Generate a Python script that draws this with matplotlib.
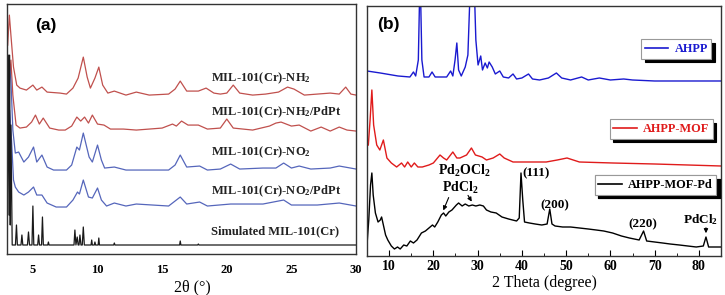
import numpy as np
import matplotlib.pyplot as plt
from matplotlib.lines import Line2D
from matplotlib.ticker import MultipleLocator

plt.rcParams['font.family'] = ['Liberation Serif', 'DejaVu Serif']
plt.rcParams['font.weight'] = 'bold'
plt.rcParams['mathtext.fontset'] = 'custom'
plt.rcParams['mathtext.rm'] = 'Liberation Serif:bold'
plt.rcParams['mathtext.it'] = 'Liberation Serif:bold'
plt.rcParams['mathtext.bf'] = 'Liberation Serif:bold'
plt.rcParams['mathtext.default'] = 'rm'

# ---------------- panel (a): MIL-101(Cr) patterns (intensity above own baseline, a.u.)
nh2_tt = [3.05, 3.18, 3.3, 3.5, 3.75, 4.0, 4.5, 5.0, 5.3, 5.7, 6.1, 7.1, 7.6, 8.1, 8.5, 8.9, 9.2,
          9.45, 9.8, 10.1, 10.4, 10.8, 11.3, 12.2, 13, 14, 15.5, 16.0, 16.4, 16.9, 17.8, 18.4,
          19.0, 19.5, 20.0, 20.5, 21.0, 22, 23, 24.0, 24.7, 25.2, 26, 27, 28, 28.7, 29.2, 29.6, 30]
nh2_i = [50, 80, 60, 28, 10, 7, 5, 10, 5, 8, 3, 2, 1, 7, 17, 38, 18,
         7, 17, 28, 10, 2, 4, 0, 3, 0, 1, 6, 14, 4, 4, 7,
         2, 1, 2, 10, 2, 0, 1, 3, 8, 6, 0, 1, 2, 1, 8, 1, 0]

nh2pd_tt = [3.1, 3.3, 3.45, 3.7, 4.0, 4.5, 4.9, 5.2, 5.5, 5.8, 6.3, 7.0, 7.5, 8.0, 8.4, 8.7, 9.0,
            9.3, 9.6, 10.0, 10.5, 11.0, 12, 13, 14, 15.0, 15.8, 16.1, 16.5, 17.0, 17.8, 18.5,
            19.5, 20.0, 20.5, 22, 23.3, 23.8, 24.2, 24.6, 25.0, 25.6, 26.5, 27.3, 28.0, 28.7,
            29.3, 30]
nh2pd_i = [31, 71, 36, 6, 3, 4, 9, 16, 7, 13, 3, 1, 1, 5, 14, 10, 14,
           8, 16, 7, 6, 2, 2, 1, 2, 3, 7, 5, 10, 6, 6, 2,
           3, 12, 3, 1, 5, 8, 9, 7, 5, 6, 0, 4, 0, 4,
           1, 0]

no2_tt = [3.0, 3.15, 3.3, 3.45, 3.64, 3.9, 4.3, 4.66, 5.05, 5.3, 5.7, 6.1, 6.6, 7.6, 8.0, 8.4,
          8.6, 8.9, 9.35, 9.6, 10.0, 10.3, 10.55, 11.3, 12.2, 13, 15.5, 16.0, 16.4, 16.9, 17.9,
          18.5, 19.5, 20.3, 21.0, 22.8, 23.8, 24.4, 25.0, 25.6, 26.5, 28.0, 28.7, 30]
no2_i = [49, 109, 89, 39, 16, 17, 7, 12, 22, 7, 14, 2, -1, -1, 4, 22,
         19, 36, 12, 7, 24, 9, 1, 2, -1, -1, -1, 4, 14, 2, 3,
         -1, 0, 5, 0, 1, 1, 6, 1, 3, 0, 1, 3, 0]

no2pd_tt = [3.0, 3.2, 3.35, 3.5, 3.64, 3.9, 4.3, 4.66, 5.05, 5.3, 5.7, 6.1, 6.8, 7.6, 8.1, 8.45,
            8.6, 8.9, 9.3, 9.6, 10.0, 10.3, 10.7, 11.3, 12.2, 13, 15.5, 16.4, 16.9, 17.9, 18.5,
            20.3, 22.8, 24.4, 25.0, 27.0, 28.7, 30]
no2pd_i = [56, 96, 66, 26, 19, 14, 11, 14, 19, 11, 11, 3, -1, -1, 6, 14,
           12, 26, 9, 8, 18, 6, 0, 3, 0, 2, 0, 9, 2, 4, 0,
           2, 2, 6, 1, 1, 3, 0]

sim_tt = [3.0, 3.1, 3.15, 3.2, 3.25, 3.3, 3.4, 3.65, 3.73, 3.8, 4.08, 4.15, 4.22, 4.58, 4.66,
          4.74, 4.93, 5.0, 5.07, 5.37, 5.44, 5.51, 5.67, 5.74, 5.81, 6.15, 6.2, 6.25, 8.18, 8.25,
          8.33, 8.43, 8.5, 8.57, 8.64, 8.72, 8.82, 8.9, 8.98, 9.5, 9.55, 9.6, 9.75, 9.8, 9.85,
          10.05, 10.1, 10.15, 11.25, 11.3, 11.35, 16.35, 16.4, 16.45, 17.75, 17.8, 17.85, 30]
sim_i = [0, 190, 30, 190, 20, 120, 0, 0, 20, 0, 0, 10, 0, 0, 13,
         0, 0, 39, 0, 0, 10, 0, 0, 28, 0, 0, 3, 0, 0, 15,
         0, 8, 0, 0, 10, 0, 0, 18, 0, 0, 5, 0, 0, 3, 0,
         0, 7, 0, 0, 2, 0, 0, 4, 0, 0, 1, 0, 0]

a_labels = [r'MIL-101(Cr)-NH$_2$', r'MIL-101(Cr)-NH$_2$/PdPt', r'MIL-101(Cr)-NO$_2$',
            r'MIL-101(Cr)-NO$_2$/PdPt', 'Simulated MIL-101(Cr)']

# ---------------- panel (b): AHPP series
ahpp_tt = [5.0, 8, 12, 14.7, 15.5, 16.0, 16.6, 17.0, 17.4, 17.9, 19, 19.7, 20.4, 23, 23.9, 24.4,
           24.9, 25.3, 25.7, 26.3, 27.2, 27.8, 28.3, 28.7, 29.1, 29.6, 30.1, 30.7, 31.1, 31.7,
           32.2, 32.6, 33.3, 34.0, 35.0, 35.8, 37, 38, 38.8, 40, 41.5, 42.4, 44, 46, 47.8, 49,
           51, 53.5, 55, 57.5, 60, 63, 65, 70, 75, 85]
ahpp_i = [10, 8, 5, 4, 9, 5, 21, 110, 21, 4, 4, 9, 4, 4, 10, 5,
          21, 38, 11, 5, 14, 26, 90, 120, 115, 41, 16, 25, 11, 18,
          13, 19, 14, 7, 10, 4, 3, 7, 2, 3, 7, 2, 1, 3, 8, 3,
          1, 4, 1, 3, 1, 2, 1, 0, 0, 0]

mof_tt = [5.3, 5.7, 6.1, 6.5, 7.2, 7.9, 8.7, 9.5, 10.5, 11.7, 12.8, 13.5, 14.2, 15.0, 15.7, 16.5,
          17.5, 19, 20, 21.5, 22.3, 23, 24.4, 25.3, 26, 27.5, 28.6, 29.5, 31, 32, 33.5, 35, 36,
          38, 40, 45.5, 48, 50.2, 53, 60.5, 70, 85]
mof_i = [21, 46, 76, 41, 21, 16, 26, 8, 3, -1, 3, -1, 4, -1, 3, -1,
         -1, 1, 3, 11, 8, 6, 14, 8, 8, 11, 18, 11, 9, 6, 8, 12, 8,
         4, 4, 4, 6, 8, 4, 3, 2, 0]

mofpd_tt = [5.0, 5.4, 5.8, 6.1, 6.4, 6.9, 7.5, 8.0, 8.3, 8.7, 9.2, 9.7, 10.5, 11.2, 11.9, 12.5,
            13.3, 14.0, 14.8, 15.5, 16.3, 17.3, 18.2, 19.0, 19.8, 20.3, 21.0, 21.8, 22.3, 22.8,
            23.5, 24.2, 25.2, 25.7, 26.5, 27.2, 28.0, 28.8, 29.6, 30.5, 31.3, 32.0, 33.0, 34.2,
            35.5, 37.0, 37.9, 38.8, 39.4, 39.8, 40.2, 40.6, 41.7, 43.0, 44.5, 45.7, 46.3, 46.8,
            47.5, 49.2, 51, 53, 55, 56.8, 58.5, 60.5, 62.5, 64.3, 66.5, 67.5, 68.2, 70, 71.8,
            73.5, 75.6, 77.5, 79.4, 81.0, 81.6, 82.2, 83.5, 85]
mofpd_i = [2, 27, 62, 74, 52, 34, 25, 27, 30, 22, 12, 7, 1, -2, 0, -2,
           2, 1, 6, 4, 7, 14, 16, 19, 22, 20, 25, 32, 34, 31,
           35, 37, 42, 44, 41, 43, 41, 42, 41, 42, 41, 37, 35, 34,
           30, 28, 27, 26, 29, 74, 47, 25, 24, 23, 22, 23, 38, 23,
           21, 20, 20, 19, 18, 17, 16, 14, 11, 9, 7, 16, 6, 5, 4,
           3, 2, 1, 0, 1, 10, 0, 0, 0]

fig = plt.figure(figsize=(7.25, 2.95), dpi=100)

# ---------- (a)
ax1 = fig.add_axes([0.0097, 0.139, 0.4814, 0.847])
red_a, blue_a, blk_a = '#c0504d', '#5566bb', '#1a1a1a'
a_series = [(nh2_tt, nh2_i, 159, red_a), (nh2pd_tt, nh2pd_i, 123, red_a),
            (no2_tt, no2_i, 85, blue_a), (no2pd_tt, no2pd_i, 48, blue_a),
            (sim_tt, sim_i, 9, blk_a)]
for tt, inten, off, col in a_series:
    ax1.plot(tt, np.array(inten) + off, color=col, lw=0.9)
lab_y = [176, 141.5, 102, 63, 23]
for lab, y in zip(a_labels, lab_y):
    ax1.text(18.8, y, lab, ha='left', va='center', fontsize=9, color='#222222')
ax1.text(0.112, 0.914, '(a)', transform=ax1.transAxes, ha='center', va='center',
         fontsize=12.5, fontweight='bold', family=['Liberation Sans', 'DejaVu Sans'])
ax1.set_xlim(3, 30)
ax1.set_ylim(0, 250)
ax1.set_yticks([])
ax1.set_xticks([5, 10, 15, 20, 25, 30])
ax1.tick_params(axis='x', length=0, pad=7, labelsize=9)
ax1.set_xlabel('2θ (°)', fontsize=11.5, labelpad=1)
ax1.xaxis.set_label_coords(0.53, -0.1)
for s in ax1.spines.values():
    s.set_linewidth(1.0)
    s.set_color('#333333')

# ---------- (b)
ax2 = fig.add_axes([0.5062, 0.1322, 0.4883, 0.8475])
blue_b, red_b, blk_b = '#1a1ad0', '#e01b1b', '#000000'
b_series = [(ahpp_tt, ahpp_i, 175, blue_b), (mof_tt, mof_i, 90, red_b),
            (mofpd_tt, mofpd_i, 9, blk_b)]
for tt, inten, off, col in b_series:
    ax2.plot(tt, np.array(inten) + off, color=col, lw=1.0)
ax2.set_xlim(5, 85)
ax2.set_ylim(0, 250)
ax2.set_yticks([])
ax2.xaxis.set_major_locator(MultipleLocator(10))
ax2.xaxis.set_minor_locator(MultipleLocator(5))
ax2.xaxis.set_major_formatter(lambda v, p: f'{v:.0f}' if 10 <= v <= 80 else '')
ax2.tick_params(axis='x', which='major', direction='in', length=4, pad=3, labelsize=10)
ax2.tick_params(axis='x', which='minor', direction='in', length=2.5)
ax2.set_xlabel('2 Theta (degree)', fontsize=11.5, labelpad=1)
for s in ax2.spines.values():
    s.set_linewidth(1.0)
    s.set_color('#333333')
ax2.text(0.061, 0.924, '(b)', transform=ax2.transAxes, ha='center', va='center',
         fontsize=12.5, fontweight='bold', family=['Liberation Sans', 'DejaVu Sans'])

leg_specs = [('AHPP', blue_b, (0.874, 0.828)), ('AHPP-MOF', red_b, (0.831, 0.508)),
             ('AHPP-MOF-Pd', blk_b, (0.815, 0.284))]
for lab, col, xy in leg_specs:
    h = Line2D([], [], color=col, lw=1.2)
    leg = ax2.legend([h], [lab], loc='center', bbox_to_anchor=xy, fancybox=False,
                     shadow={'ox': 2.5, 'oy': -2.5, 'facecolor': 'black',
                             'edgecolor': 'black', 'alpha': 1},
                     fontsize=8.8, handlelength=1.9, borderpad=0.3, handletextpad=0.5,
                     borderaxespad=0, labelcolor=col, framealpha=1)
    leg.get_frame().set_edgecolor('#999999')
    leg.get_frame().set_linewidth(0.8)
    ax2.add_artist(leg)

ax2.text(27.1, 85, r'Pd$_2$OCl$_2$', ha='center', va='center', fontsize=10)
ax2.text(26.0, 68, r'PdCl$_2$', ha='center', va='center', fontsize=10)
arw = dict(arrowstyle='-|>', lw=0.8, color='black', mutation_scale=6)
ax2.annotate('', xy=(22.0, 43), xytext=(23.7, 61), arrowprops=arw)
ax2.annotate('', xy=(29.0, 52), xytext=(27.5, 63), arrowprops=arw)
ax2.text(43.2, 83, '(111)', ha='center', va='center', fontsize=9.5)
ax2.text(47.4, 51, '(200)', ha='center', va='center', fontsize=9.5)
ax2.text(67.4, 32, '(220)', ha='center', va='center', fontsize=9.5)
ax2.text(80.4, 36, r'PdCl$_2$', ha='center', va='center', fontsize=9.5)
ax2.annotate('', xy=(81.6, 20), xytext=(81.6, 31), arrowprops=arw)

fig.savefig('out.png', dpi=100)
